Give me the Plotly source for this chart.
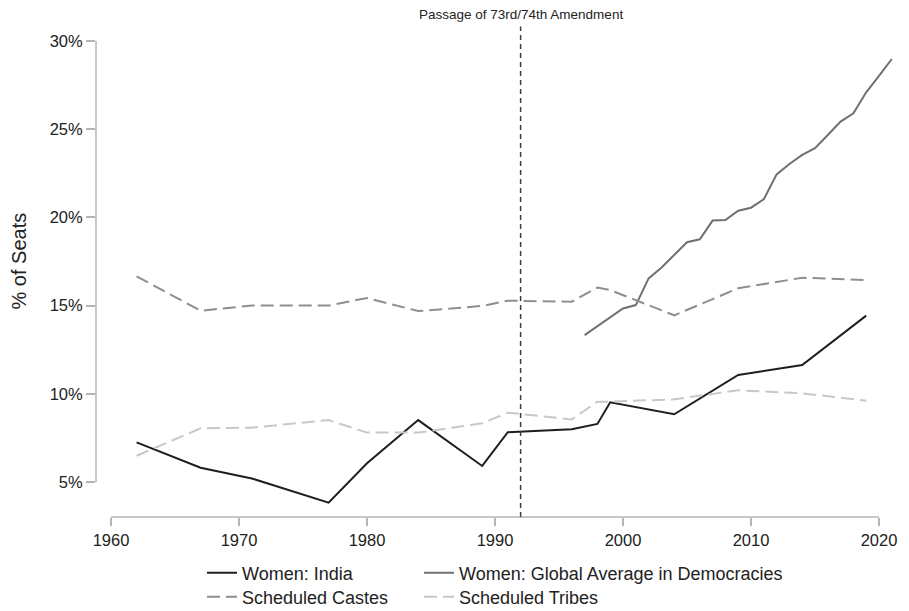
import plotly.graph_objects as go

# Lok Sabha election years
years = [1962, 1967, 1971, 1977, 1980, 1984, 1989, 1991, 1996, 1998, 1999, 2004, 2009, 2014, 2019]
women_india = [7.25, 5.81, 5.2, 3.83, 6.06, 8.51, 5.91, 7.82, 7.99, 8.29, 9.52, 8.84, 11.07, 11.63, 14.43]
scheduled_castes = [16.66, 14.71, 15.0, 15.0, 15.43, 14.69, 14.98, 15.28, 15.22, 16.02, 15.88, 14.45, 15.98, 16.58, 16.45]
scheduled_tribes = [6.49, 8.04, 8.08, 8.51, 7.80, 7.80, 8.33, 8.93, 8.55, 9.55, 9.55, 9.69, 10.2, 10.03, 9.61]

# Annual global average in democracies
global_years = list(range(1997, 2022))
women_global = [13.33, 13.84, 14.31, 14.84, 15.03, 16.54, 17.15, 17.87, 18.59, 18.76,
                19.82, 19.85, 20.38, 20.55, 21.03, 22.44, 23.03, 23.54, 23.92, 24.67,
                25.43, 25.9, 27.09, 28.02, 28.98]

x_ticks = [1960, 1970, 1980, 1990, 2000, 2010, 2020]
y_ticks = [5, 10, 15, 20, 25, 30]
y_tick_text = [f"{v}%" for v in y_ticks]
amendment_year = 1992
amendment_label = "Passage of 73rd/74th Amendment"

FONT = "Liberation Sans, Arial, Helvetica, sans-serif"
TEXT = "#222222"
AXIS = "#b4b4b4"
DASH = "13px,6px"

fig = go.Figure()

fig.add_trace(go.Scatter(x=years, y=women_india, mode="lines", name="Women: India",
                         line=dict(color="#1e1e1e", width=2), legend="legend"))
fig.add_trace(go.Scatter(x=global_years, y=women_global, mode="lines",
                         name="Women: Global Average in Democracies",
                         line=dict(color="#707070", width=2), legend="legend2"))
fig.add_trace(go.Scatter(x=years, y=scheduled_castes, mode="lines", name="Scheduled Castes",
                         line=dict(color="#8e8e8e", width=2, dash=DASH), legend="legend3"))
fig.add_trace(go.Scatter(x=years, y=scheduled_tribes, mode="lines", name="Scheduled Tribes",
                         line=dict(color="#c8c8c8", width=2, dash=DASH), legend="legend4"))

# pixel geometry of the plotting panel
W, H = 909, 611
L, R, T, B = 96, 10, 30, 94
px_per_year = 12.8
px_per_pct = 17.64
x0 = x_ticks[0] - 15 / px_per_year
x1 = x0 + (W - L - R) / px_per_year
y0 = y_ticks[0] - 35 / px_per_pct
y1 = y0 + (H - T - B) / px_per_pct

# range-frame axis lines spanning the first to last tick
fig.add_shape(type="line", xref="paper", yref="y", x0=0, x1=0, y0=y_ticks[0], y1=y_ticks[-1],
              line=dict(color=AXIS, width=1.5))
fig.add_shape(type="line", xref="x", yref="paper", x0=x_ticks[0], x1=x_ticks[-1], y0=0, y1=0,
              line=dict(color=AXIS, width=1.5))

# amendment marker
fig.add_shape(type="line", xref="x", yref="paper", x0=amendment_year, x1=amendment_year,
              y0=0, y1=1.007, line=dict(color="#3c3c3c", width=1.5, dash="5px,4px"))
fig.add_annotation(x=amendment_year, xref="x", y=1.013, yref="paper", yanchor="bottom",
                   text=amendment_label, showarrow=False,
                   font=dict(family=FONT, size=13.5, color=TEXT))

# y-axis title
fig.add_annotation(x=(18 - L) / (W - L - R), xref="paper", xanchor="center",
                   y=(y_ticks[0] + y_ticks[-1]) / 2, yref="y", yanchor="middle",
                   text="% of Seats", textangle=-90, showarrow=False,
                   font=dict(family=FONT, size=20, color=TEXT))


def legend_box(x_px, y_px):
    return dict(orientation="h", xref="container", yref="container",
                x=x_px / W, y=1 - y_px / H, xanchor="left", yanchor="middle",
                font=dict(size=18, color=TEXT), bgcolor="rgba(0,0,0,0)")


fig.update_layout(
    width=W, height=H,
    margin=dict(l=L, r=R, t=T, b=B, autoexpand=False),
    paper_bgcolor="white", plot_bgcolor="white",
    font=dict(family=FONT, color=TEXT),
    xaxis=dict(range=[x0, x1], tickvals=x_ticks, showgrid=False, zeroline=False, showline=False,
               ticks="outside", ticklen=8, tickwidth=1.5, tickcolor=AXIS,
               tickfont=dict(size=16.5, color=TEXT)),
    yaxis=dict(range=[y0, y1], tickvals=y_ticks, ticktext=y_tick_text, showgrid=False,
               zeroline=False, showline=False, ticks="outside", ticklen=9, tickwidth=1.5,
               tickcolor=AXIS, tickfont=dict(size=16.5, color=TEXT)),
    legend=legend_box(202, 573),
    legend2=legend_box(419, 573),
    legend3=legend_box(202, 597),
    legend4=legend_box(419, 597),
    showlegend=True,
)

fig.write_html("out.html")
